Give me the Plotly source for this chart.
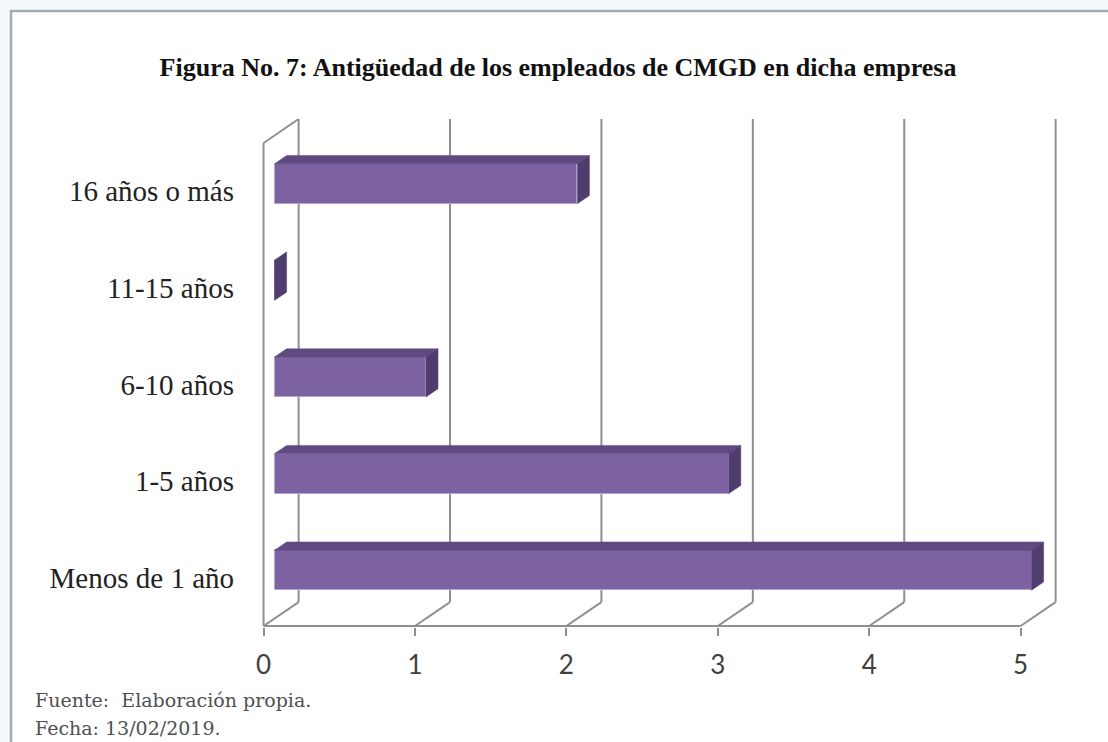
import plotly.graph_objects as go

# Data
categories = ["Menos de 1 año", "1-5 años", "6-10 años", "11-15 años", "16 años o más"]
values = [5, 3, 1, 0, 2]
x_ticks = [0, 1, 2, 3, 4, 5]

# Pseudo-3D geometry (data units): depth offset of the back wall,
# depth slice occupied by the bars, half bar thickness
DEPTH_X = 0.2315
DEPTH_Y = 0.248
D_FRONT = 0.314
D_BACK = 0.657
HALF = 0.207

FACE = "#7d62a2"
TOP = "#5f4a82"
SIDE = "#4f3d70"
GRID = "#8f8f8f"

positions = list(range(len(categories)))
y_lo, y_hi = -0.5, len(categories) - 0.5

fig = go.Figure()

# Walls and floor grid, drawn beneath the bars
grid = dict(type="line", xref="x", yref="y", layer="below",
            line=dict(color=GRID, width=2))
shapes = []
for v in x_ticks:
    # vertical line on the back wall
    shapes.append(dict(grid, x0=v + DEPTH_X, x1=v + DEPTH_X,
                       y0=y_lo + DEPTH_Y, y1=y_hi + DEPTH_Y))
    # floor line from the front edge to the back wall
    shapes.append(dict(grid, x0=v, x1=v + DEPTH_X,
                       y0=y_lo, y1=y_lo + DEPTH_Y))
# front floor edge
shapes.append(dict(grid, x0=x_ticks[0], x1=x_ticks[-1], y0=y_lo, y1=y_lo))
# left side wall: front edge and top edge
shapes.append(dict(grid, x0=0, x1=0, y0=y_lo, y1=y_hi))
shapes.append(dict(grid, x0=0, x1=DEPTH_X, y0=y_hi, y1=y_hi + DEPTH_Y))

# Outer frame of the figure
shapes.append(dict(type="rect", xref="paper", yref="paper", layer="below",
                   x0=(11 - 256) / 810, x1=(1125 - 256) / 810,
                   y0=(627 - 760) / 513, y1=(627 - 11) / 513,
                   fillcolor="white", line=dict(color="#a3abb3", width=2.5)))

# Front faces of the bars
fig.add_trace(go.Bar(
    orientation="h",
    x=values,
    y=[p + DEPTH_Y * D_FRONT for p in positions],
    base=DEPTH_X * D_FRONT,
    width=2 * HALF,
    marker=dict(color=FACE, line=dict(color="#b6a2d6", width=1)),
    hoverinfo="skip",
    showlegend=False,
))

# Top and right-hand faces
top_x, top_y, side_x, side_y = [], [], [], []
for p, v in zip(positions, values):
    yt_f = p + HALF + DEPTH_Y * D_FRONT
    yt_b = p + HALF + DEPTH_Y * D_BACK
    yb_f = p - HALF + DEPTH_Y * D_FRONT
    yb_b = p - HALF + DEPTH_Y * D_BACK
    xs_f = DEPTH_X * D_FRONT
    xs_b = DEPTH_X * D_BACK
    top_x += [xs_f, v + xs_f, v + xs_b, xs_b, xs_f, None]
    top_y += [yt_f, yt_f, yt_b, yt_b, yt_f, None]
    side_x += [v + xs_f, v + xs_f, v + xs_b, v + xs_b, v + xs_f, None]
    side_y += [yb_f, yt_f, yt_b, yb_b, yb_f, None]

fig.add_trace(go.Scatter(x=top_x, y=top_y, mode="lines", fill="toself",
                         fillcolor=TOP, line=dict(color=TOP, width=0.5),
                         hoverinfo="skip", showlegend=False))
fig.add_trace(go.Scatter(x=side_x, y=side_y, mode="lines", fill="toself",
                         fillcolor=SIDE, line=dict(color=SIDE, width=0.5),
                         hoverinfo="skip", showlegend=False))

fig.update_layout(
    width=1108, height=742,
    margin=dict(l=256, r=42, t=114, b=115),
    paper_bgcolor="#f4fafc",
    plot_bgcolor="rgba(0,0,0,0)",
    shapes=shapes,
    bargap=0,
    title=dict(
        text="<b>Figura No. 7: Antigüedad de los empleados de CMGD en dicha empresa</b>",
        font=dict(family="Liberation Serif", size=26, color="#111111"),
        x=558 / 1108, xref="container", xanchor="center",
        y=1 - 67 / 742, yref="container", yanchor="middle",
    ),
    xaxis=dict(
        range=[-0.05, 5.3],
        tickvals=x_ticks,
        ticks="outside", ticklen=8, tickwidth=2, tickcolor=GRID,
        showgrid=False, zeroline=False, showline=False,
        tickfont=dict(family="Lato", size=26, color="#404040"),
        ticklabelstandoff=7,
    ),
    yaxis=dict(
        range=[-0.51, 4.8],
        tickvals=positions,
        ticktext=categories,
        ticks="",
        showgrid=False, zeroline=False, showline=False,
        tickfont=dict(family="Liberation Serif", size=29, color="#222222"),
        ticklabelstandoff=21,
    ),
    annotations=[
        dict(text="Fuente:  Elaboración propia.", xref="paper", yref="paper",
             x=(33 - 256) / 810, y=(627 - 700) / 513, xanchor="left",
             yanchor="middle", showarrow=False,
             font=dict(family="DejaVu Serif", size=19, color="#505050")),
        dict(text="Fecha: 13/02/2019.", xref="paper", yref="paper",
             x=(33 - 256) / 810, y=(627 - 728) / 513, xanchor="left",
             yanchor="middle", showarrow=False,
             font=dict(family="DejaVu Serif", size=19, color="#505050")),
    ],
)

fig.write_html("out.html")
